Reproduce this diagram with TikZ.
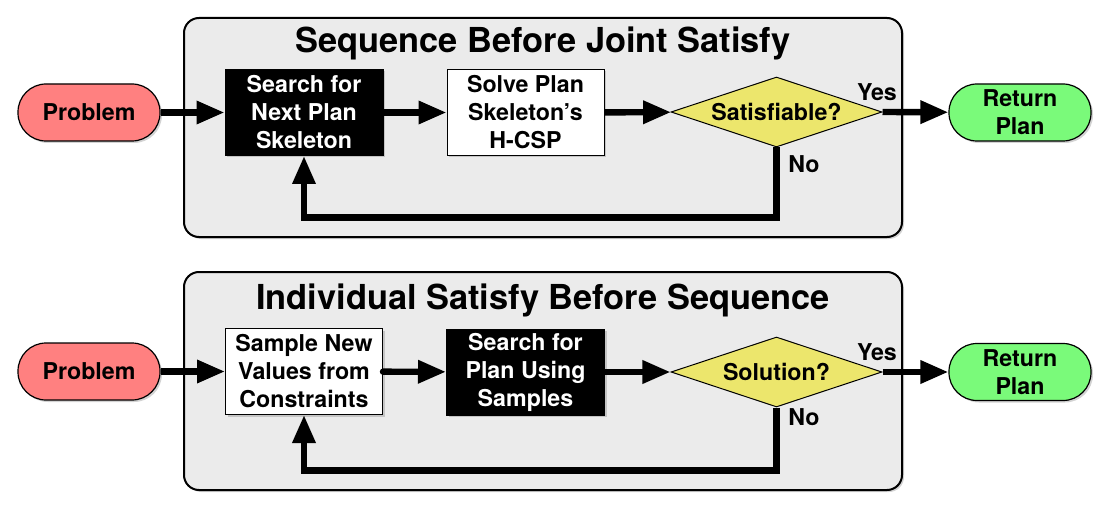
\documentclass[tikz,border=0pt]{standalone}
\usepackage{fontspec}
\setmainfont{TeX Gyre Heros}
\usetikzlibrary{arrows.meta,shapes.geometric,shadows}
\definecolor{probred}{RGB}{255,128,128}
\definecolor{retgreen}{RGB}{122,250,122}
\definecolor{decyel}{RGB}{236,230,108}
\definecolor{panelgray}{RGB}{235,235,235}
\tikzset{txt/.style   = {font=\fontsize{11.6}{14}\selectfont\bfseries, align=center},
         shd/.style   = {drop shadow={shadow xshift=1pt, shadow yshift=-1pt, opacity=0.35}},
         pill/.style  = {txt, shd, draw, line width=0.6pt, rounded corners=14pt, minimum width=71pt, minimum height=28.5pt, inner sep=0pt},
         blk/.style   = {txt, shd, draw, fill=black, text=white, line width=0.5pt, minimum width=79pt, minimum height=43pt, inner sep=0pt},
         wht/.style   = {txt, shd, draw, fill=white, line width=0.5pt, minimum width=78.5pt, minimum height=43pt, inner sep=0pt},
         dec/.style   = {txt, diamond, draw, fill=decyel, line width=0.5pt, aspect=3, minimum width=105.5pt, minimum height=35pt, inner sep=0pt},
         panel/.style = {shd, draw, line width=1pt, fill=panelgray, rounded corners=7.5pt},
         ttl/.style   = {font=\fontsize{17.2}{20}\selectfont\bfseries},
         flow/.style  = {line width=3.2pt, -{Triangle[length=14pt, width=11pt]}}}
\begin{document}
\begin{tikzpicture}[x=0.5pt, y=-0.5pt]
    \useasboundingbox (0,0) rectangle (1109,508);
    \draw[panel] (184,18) rectangle (902,237);
    \draw[panel] (184,272) rectangle (902,490);
    \node[ttl] (ttl1) at (543,43) {Sequence Before Joint Satisfy};
    \node[ttl] (ttl2) at (543,300) {Individual Satisfy Before Sequence};
    \node[pill, fill=probred] (prob1) at (89,112.5) {Problem};
    \node[blk] (srch1) at (304,112.5) {Search for\\Next Plan\\Skeleton};
    \node[wht] (solve1) at (525.5,112.5) {Solve Plan\\Skeleton’s\\H-CSP};
    \node[dec] (sat1) at (776.5,112) {Satisfiable?};
    \node[pill, fill=retgreen] (ret1) at (1020,112.5) {Return\\Plan};
    \node[txt] (yes1) at (877,92) {Yes};
    \node[txt] (no1) at (804,164) {No};
    \node[pill, fill=probred] (prob2) at (89,371.5) {Problem};
    \node[wht] (samp2) at (304,371.5) {Sample New\\Values from\\Constraints};
    \node[blk] (srch2) at (525.5,372) {Search for\\Plan Using\\Samples};
    \node[dec] (sol2) at (776.5,372) {Solution?};
    \node[pill, fill=retgreen] (ret2) at (1020,372) {Return\\Plan};
    \node[txt] (yes2) at (877,352) {Yes};
    \node[txt] (no2) at (804,417) {No};
    \draw[flow] (prob1) -- (srch1);
    \draw[flow] (srch1) -- (solve1);
    \draw[flow] (solve1) -- (sat1);
    \draw[flow] (sat1.east) -- (ret1);
    \draw[flow] (sat1.south) -- ++(0,70) -| (srch1.south);
    \draw[flow] (prob2) -- (samp2);
    \draw[flow, line cap=round] (samp2) -- (srch2);
    \draw[flow] (srch2) -- (sol2);
    \draw[flow] (sol2.east) -- (ret2);
    \draw[flow] (sol2.south) -- ++(0,63) -| (samp2.south);
  \end{tikzpicture}
\end{document}
